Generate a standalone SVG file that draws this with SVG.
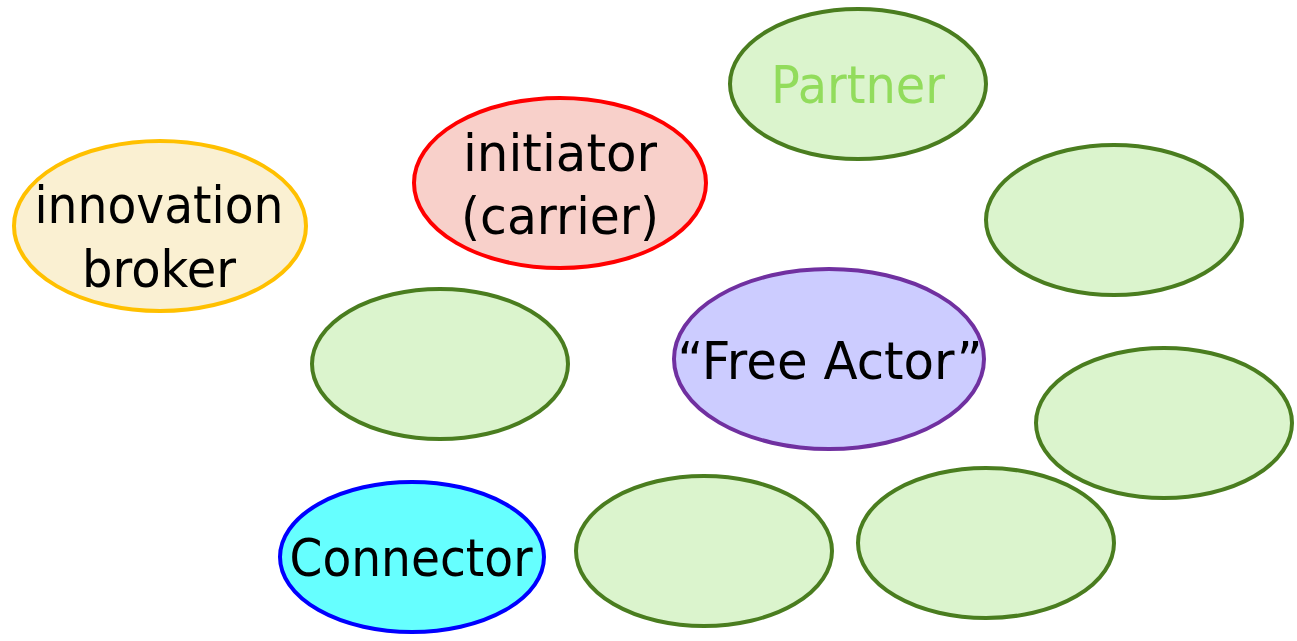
<svg xmlns="http://www.w3.org/2000/svg" width="1297" height="641" viewBox="0 0 1297 641">
<style>
ellipse{stroke-width:4}
.g{fill:#dbf4cd;stroke:#4a7d1f}
text{font-family:"DejaVu Sans","Liberation Sans",sans-serif;font-size:52px;fill:#000;text-anchor:middle}
</style>
<rect width="1297" height="641" fill="#fff"/>
<g id="partner"><ellipse class="g" cx="858" cy="84" rx="128" ry="75"/><text x="858" y="103" style="fill:#92dc5c" textLength="174" lengthAdjust="spacingAndGlyphs">Partner</text></g>
<g id="green1"><ellipse class="g" cx="1114" cy="220" rx="128" ry="75"/></g>
<g id="initiator"><ellipse cx="560" cy="183" rx="146" ry="85" fill="#f8d0ca" stroke="#ff0000"/><text x="560" y="171" textLength="194" lengthAdjust="spacingAndGlyphs">initiator</text><text x="560" y="234" textLength="198" lengthAdjust="spacingAndGlyphs">(carrier)</text></g>
<g id="broker"><ellipse cx="160" cy="226" rx="146" ry="85" fill="#faf0d2" stroke="#ffc000"/><text x="159" y="223" textLength="249" lengthAdjust="spacingAndGlyphs">innovation</text><text x="159" y="287" textLength="154" lengthAdjust="spacingAndGlyphs">broker</text></g>
<g id="green2"><ellipse class="g" cx="440" cy="364" rx="128" ry="75"/></g>
<g id="freeactor"><ellipse cx="829" cy="359" rx="155" ry="90" fill="#ccccff" stroke="#7030a0"/><text x="830" y="379" textLength="305" lengthAdjust="spacingAndGlyphs">“Free Actor”</text></g>
<g id="green3"><ellipse class="g" cx="1164" cy="423" rx="128" ry="75"/></g>
<g id="connector"><ellipse cx="412" cy="557" rx="132" ry="75" fill="#66ffff" stroke="#0000ff"/><text x="411" y="576" textLength="243" lengthAdjust="spacingAndGlyphs">Connector</text></g>
<g id="green4"><ellipse class="g" cx="704" cy="551" rx="128" ry="75"/></g>
<g id="green5"><ellipse class="g" cx="986" cy="543" rx="128" ry="75"/></g>
<g id="connectors"></g>
</svg>
